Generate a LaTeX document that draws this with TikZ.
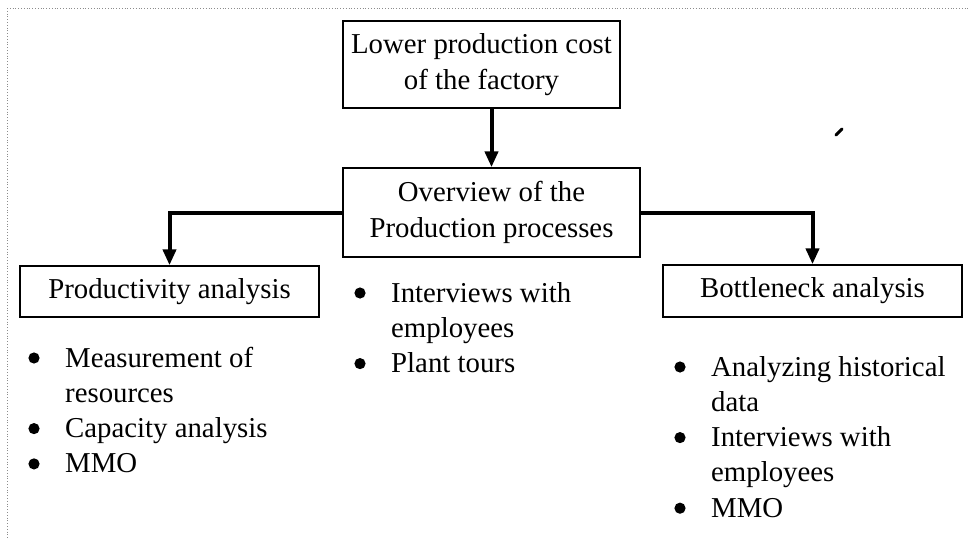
\documentclass[tikz,border=0pt]{standalone}
\usepackage{fontspec}
\setmainfont{Liberation Serif}
\usetikzlibrary{arrows.meta}
\begin{document}
\begin{tikzpicture}[x=1pt,y=-1pt,
  box/.style={draw, line width=1.4pt, inner sep=0pt, align=center,
              font=\fontsize{28.8}{36}\selectfont},
  flow/.style={line width=4pt, -{Triangle[length=16pt,width=13pt]}},
  line/.style={inner sep=0pt, anchor=base west,
              font=\fontsize{28.8}{35.3}\selectfont},
  dot/.style={fill=black},
  frame/.style={black!45, line width=0.8pt, dotted}]
\useasboundingbox (0,0) rectangle (970,538);

% dotted page frame along the top and left
\draw[frame] (7,8) -- (970,8);
\draw[frame] (7,8) -- (7,538);

% boxes
\node[box, minimum width=277pt, minimum height=87pt] (goal) at (481.5,64.5)
  {Lower production cost\\of the factory};
\node[box, minimum width=297pt, minimum height=89pt] (overview) at (491.5,212.5)
  {Overview of the\\Production processes};
\node[box, minimum width=299pt, minimum height=51pt] (prod) at (169.5,291.5)
  {Productivity analysis};
\node[box, minimum width=299pt, minimum height=52pt] (bottle) at (812.5,291)
  {Bottleneck analysis};

% connectors
\draw[flow] (overview.north |- goal.south) -- (overview.north);
\draw[flow] (overview.west) -| (prod.north);
\draw[flow] (overview.east) -| (bottle.north);

% productivity list
\node[line] (p1) at (65,367)   {Measurement of};
\node[line] (p2) at (65,402.3) {resources};
\node[line] (p3) at (65,437.6) {Capacity analysis};
\node[line] (p4) at (65,472.9) {MMO};
\foreach \y in {367,437.6,472.9} \fill[dot] (34,\y-9) circle (5.6pt);

% overview list
\node[line] (o1) at (391,302)   {Interviews with};
\node[line] (o2) at (391,337.3) {employees};
\node[line] (o3) at (391,372.6) {Plant tours};
\foreach \y in {302,372.6} \fill[dot] (360,\y-9) circle (5.6pt);

% bottleneck list
\node[line] (b1) at (711,376)   {Analyzing historical};
\node[line] (b2) at (711,411.3) {data};
\node[line] (b3) at (711,446.6) {Interviews with};
\node[line] (b4) at (711,481.9) {employees};
\node[line] (b5) at (711,517.2) {MMO};
\foreach \y in {376,446.6,517.2} \fill[dot] (680,\y-9) circle (5.6pt);

% small pen stroke at the upper right
\draw[line width=3pt, line cap=round] (836,135) -- (842,129);
\end{tikzpicture}
\end{document}
